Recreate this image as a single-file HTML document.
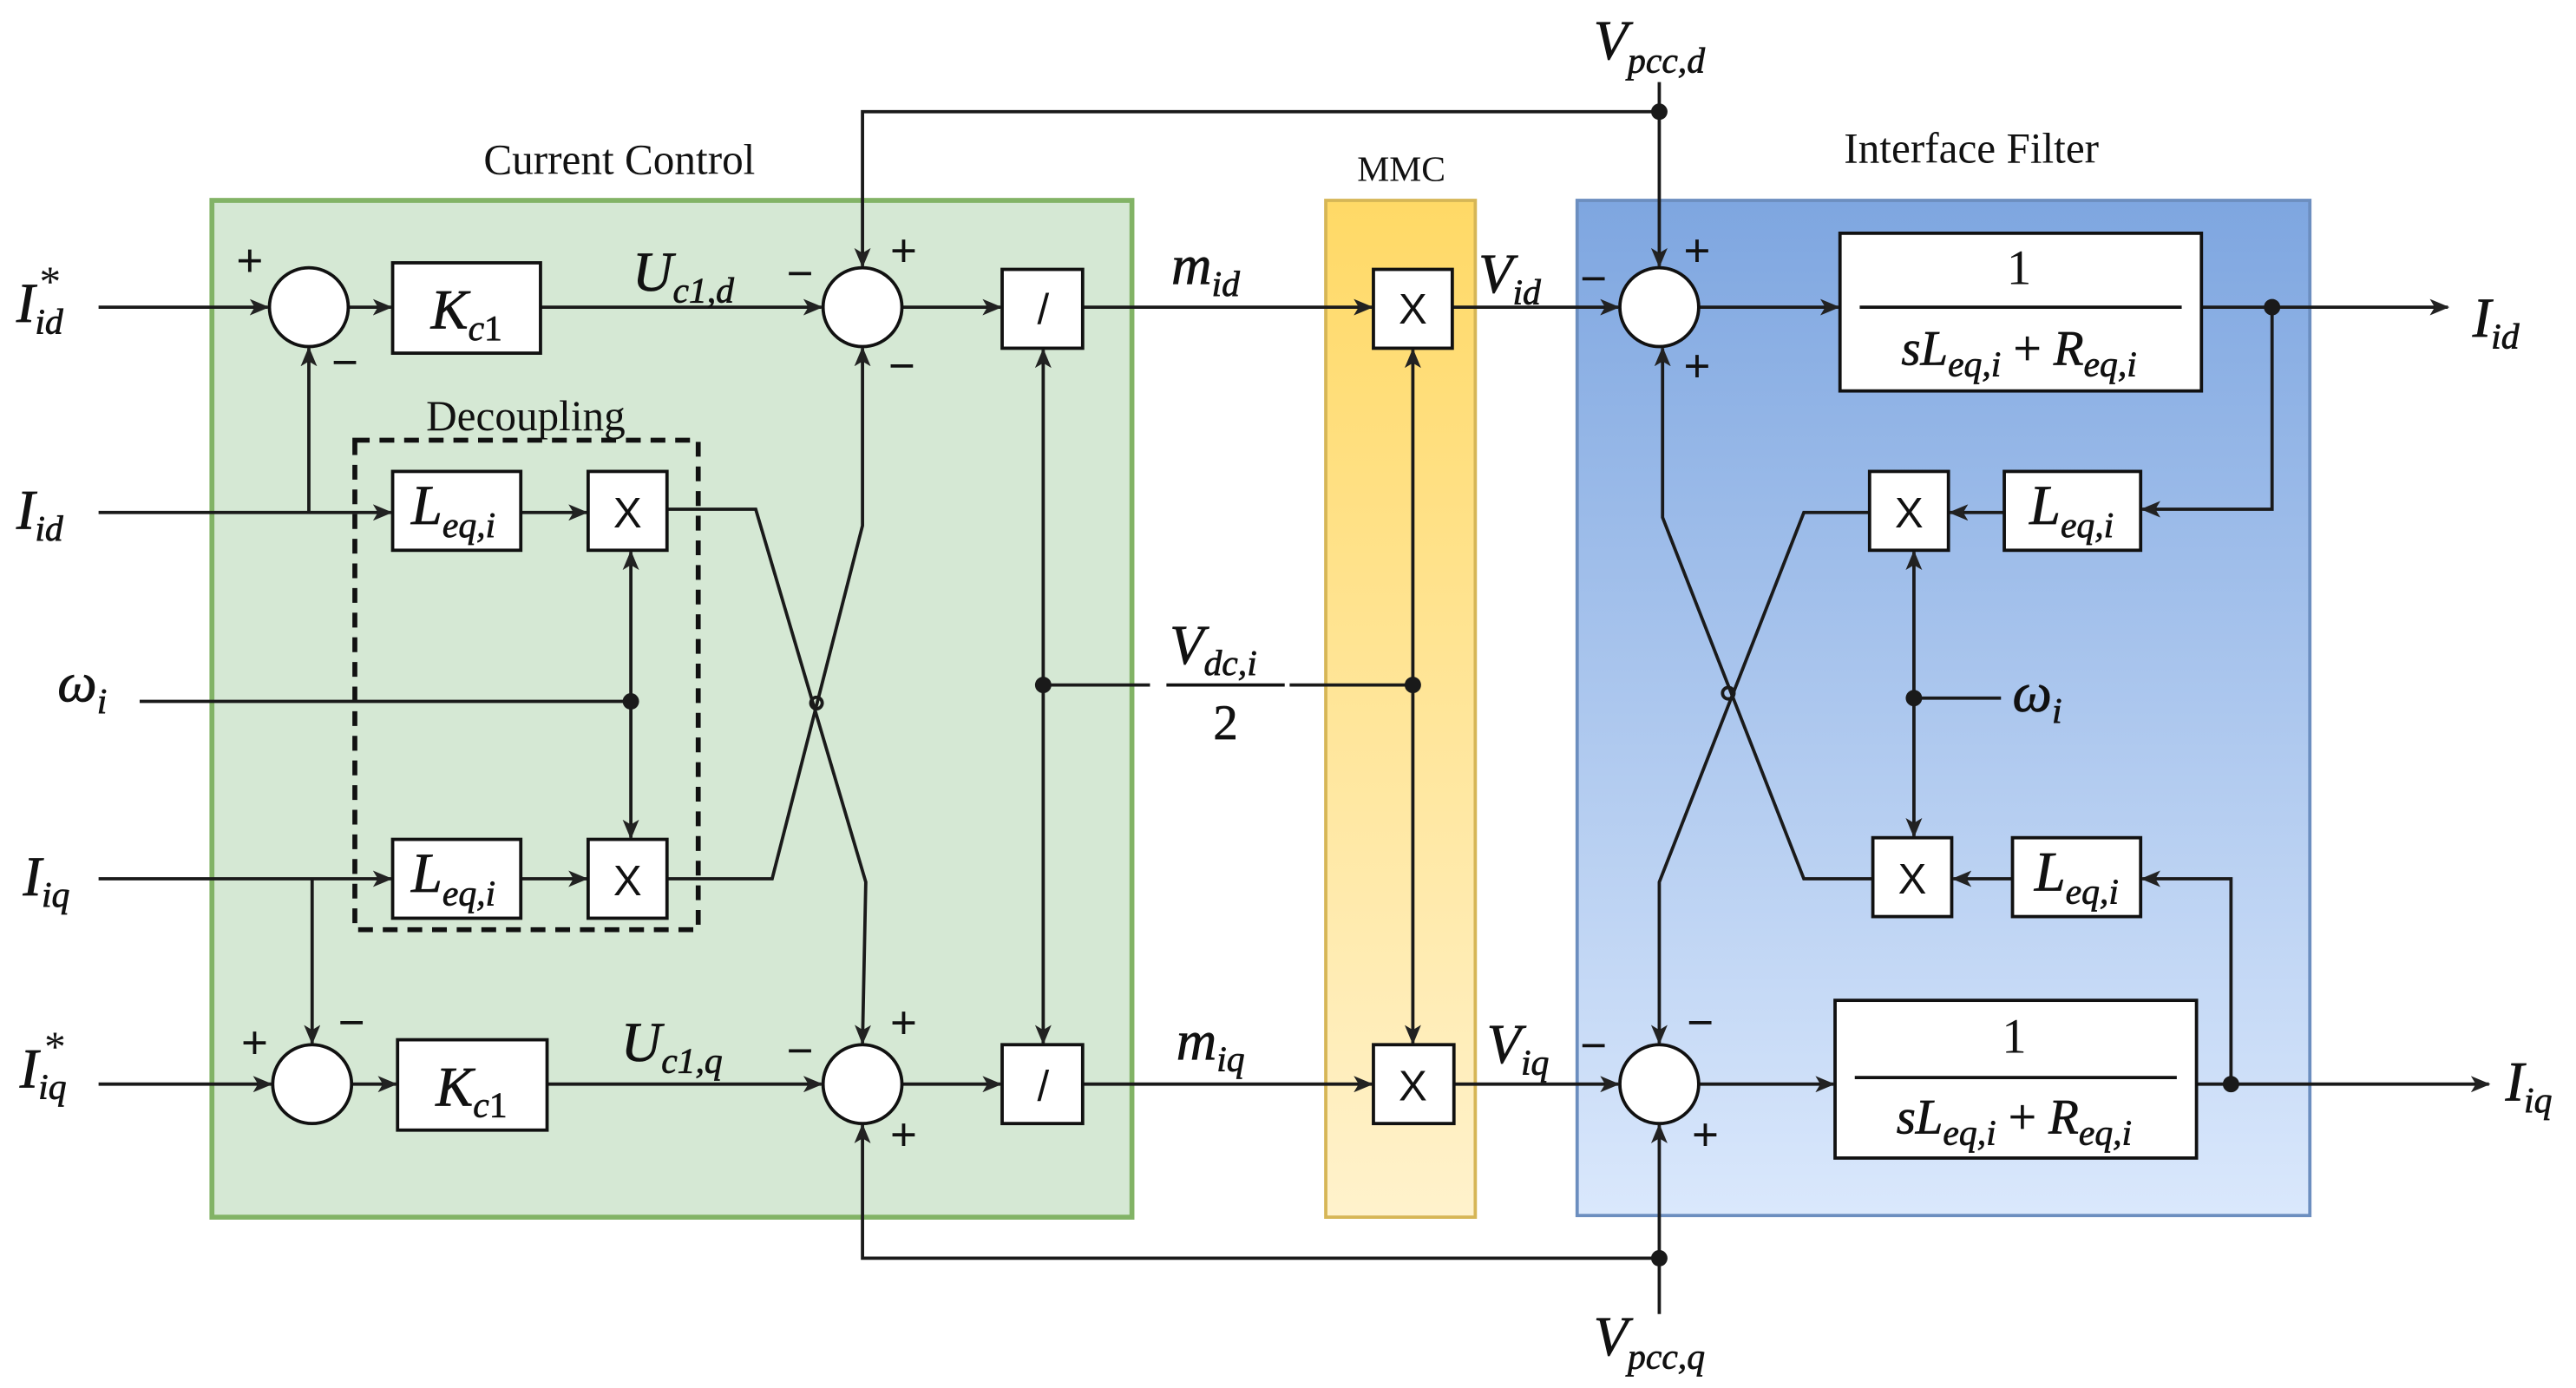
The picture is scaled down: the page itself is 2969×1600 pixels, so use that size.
<!DOCTYPE html>
<html><head><meta charset="utf-8"><style>
html,body{margin:0;padding:0;background:#fff}
svg{display:block}
text{font-family:"Liberation Serif",serif;fill:#111}
.m{font-style:italic;font-size:34px;stroke:#111;stroke-width:0.4}
.s{font-style:italic;font-size:22px}
.t{font-size:26px}
.sg{font-size:28px;font-family:"Liberation Sans",sans-serif}
.x{font-family:"Liberation Sans",sans-serif;font-size:26px}
</style></head><body>
<svg width="2969" height="1600" viewBox="0 0 1568 845" preserveAspectRatio="none" xmlns="http://www.w3.org/2000/svg">
<defs>
<linearGradient id="gy" x1="0" y1="0" x2="0" y2="1"><stop offset="0" stop-color="#ffd966"/><stop offset="1" stop-color="#fff2cc"/></linearGradient>
<linearGradient id="gb" x1="0" y1="0" x2="0" y2="1"><stop offset="0" stop-color="#7ea6e0"/><stop offset="1" stop-color="#dae8fc"/></linearGradient>
<marker id="a" markerWidth="12" markerHeight="10" refX="11" refY="5" orient="auto" markerUnits="userSpaceOnUse"><path d="M0,0 L12,5 L0,10 L3,5 Z" fill="#222"/></marker>
</defs>
<rect x="129" y="122" width="560" height="619" fill="#d5e8d4" stroke="#82b366" stroke-width="3"/>
<rect x="807" y="122" width="91" height="619" fill="url(#gy)" stroke="#d6b656" stroke-width="2"/>
<rect x="960" y="122" width="446" height="618" fill="url(#gb)" stroke="#6c8ebf" stroke-width="2"/>
<text x="377" y="106" text-anchor="middle" class="t">Current Control</text>
<text x="853" y="110" text-anchor="middle" style="font-size:22px">MMC</text>
<text x="1200" y="99" text-anchor="middle" class="t">Interface Filter</text>
<rect x="216" y="268" width="209" height="298" fill="none" stroke="#111" stroke-width="3" stroke-dasharray="9,6"/>
<text x="320" y="262" text-anchor="middle" class="t">Decoupling</text>

<g stroke="#1a1a1a" stroke-width="2" fill="none">
<line x1="60" y1="187" x2="163" y2="187" marker-end="url(#a)"/>
<line x1="212" y1="187" x2="238" y2="187" marker-end="url(#a)"/>
<line x1="329" y1="187" x2="500" y2="187" marker-end="url(#a)"/>
<line x1="549" y1="187" x2="609" y2="187" marker-end="url(#a)"/>
<line x1="659" y1="187" x2="835" y2="187" marker-end="url(#a)"/>
<line x1="884" y1="187" x2="985" y2="187" marker-end="url(#a)"/>
<line x1="1034" y1="187" x2="1119" y2="187" marker-end="url(#a)"/>
<line x1="1340" y1="187" x2="1490" y2="187" marker-end="url(#a)"/>
<path d="M1010,50 L1010,162" marker-end="url(#a)"/>
<path d="M1010,68 L525,68 L525,162" marker-end="url(#a)"/>
<line x1="60" y1="312" x2="238" y2="312" marker-end="url(#a)"/>
<path d="M188,312 L188,212" marker-end="url(#a)"/>
<line x1="317" y1="312" x2="357" y2="312" marker-end="url(#a)"/>
<path d="M406,310 L460,310 L527,537 L525,635" marker-end="url(#a)"/>
<line x1="60" y1="535" x2="238" y2="535" marker-end="url(#a)"/>
<path d="M190,535 L190,635" marker-end="url(#a)"/>
<line x1="317" y1="535" x2="357" y2="535" marker-end="url(#a)"/>
<path d="M406,535 L470,535 L525,320 L525,212" marker-end="url(#a)"/>
<line x1="85" y1="427" x2="384" y2="427"/>
<path d="M384,427 L384,336" marker-end="url(#a)"/>
<path d="M384,427 L384,510" marker-end="url(#a)"/>
<line x1="60" y1="660" x2="165" y2="660" marker-end="url(#a)"/>
<line x1="214" y1="660" x2="241" y2="660" marker-end="url(#a)"/>
<line x1="333" y1="660" x2="500" y2="660" marker-end="url(#a)"/>
<line x1="549" y1="660" x2="609" y2="660" marker-end="url(#a)"/>
<line x1="659" y1="660" x2="835" y2="660" marker-end="url(#a)"/>
<line x1="885" y1="660" x2="985" y2="660" marker-end="url(#a)"/>
<line x1="1034" y1="660" x2="1116" y2="660" marker-end="url(#a)"/>
<line x1="1337" y1="660" x2="1515" y2="660" marker-end="url(#a)"/>
<path d="M1010,800 L1010,685" marker-end="url(#a)"/>
<path d="M1010,766 L525,766 L525,685" marker-end="url(#a)"/>
<line x1="635" y1="417" x2="700" y2="417"/>
<line x1="785" y1="417" x2="860" y2="417"/>
<path d="M635,417 L635,213" marker-end="url(#a)"/>
<path d="M635,417 L635,635" marker-end="url(#a)"/>
<path d="M860,417 L860,213" marker-end="url(#a)"/>
<path d="M860,417 L860,635" marker-end="url(#a)"/>
<path d="M1383,187 L1383,310 L1304,310" marker-end="url(#a)"/>
<line x1="1220" y1="312" x2="1187" y2="312" marker-end="url(#a)"/>
<path d="M1138,312 L1098,312 L1010,537 L1010,635" marker-end="url(#a)"/>
<path d="M1358,660 L1358,535 L1304,535" marker-end="url(#a)"/>
<line x1="1225" y1="535" x2="1189" y2="535" marker-end="url(#a)"/>
<path d="M1140,535 L1098,535 L1012,315 L1012,212" marker-end="url(#a)"/>
<line x1="1165" y1="425" x2="1218" y2="425"/>
<path d="M1165,425 L1165,336" marker-end="url(#a)"/>
<path d="M1165,425 L1165,509" marker-end="url(#a)"/>
<circle cx="497" cy="428" r="3.5"/>
<circle cx="1052" cy="422" r="3.5"/>
</g>

<g fill="#1a1a1a">
<circle cx="1010" cy="68" r="5"/><circle cx="1383" cy="187" r="5"/>
<circle cx="1010" cy="766" r="5"/><circle cx="1358" cy="660" r="5"/>
<circle cx="635" cy="417" r="5"/><circle cx="860" cy="417" r="5"/>
<circle cx="384" cy="427" r="5"/><circle cx="1165" cy="425" r="5"/>
</g>

<g fill="#fff" stroke="#111" stroke-width="2">
<circle cx="188" cy="187" r="24"/><circle cx="525" cy="187" r="24"/><circle cx="1010" cy="187" r="24"/>
<circle cx="190" cy="660" r="24"/><circle cx="525" cy="660" r="24"/><circle cx="1010" cy="660" r="24"/>
<rect x="239" y="160" width="90" height="55"/>
<rect x="242" y="633" width="91" height="55"/>
<rect x="610" y="164" width="49" height="48"/>
<rect x="610" y="636" width="49" height="48"/>
<rect x="836" y="164" width="48" height="48"/>
<rect x="836" y="636" width="49" height="48"/>
<rect x="239" y="287" width="78" height="48"/>
<rect x="358" y="287" width="48" height="48"/>
<rect x="239" y="511" width="78" height="48"/>
<rect x="358" y="511" width="48" height="48"/>
<rect x="1220" y="287" width="83" height="48"/>
<rect x="1138" y="287" width="48" height="48"/>
<rect x="1225" y="510" width="78" height="48"/>
<rect x="1140" y="510" width="48" height="48"/>
<rect x="1120" y="142" width="220" height="96"/>
<rect x="1117" y="609" width="220" height="96"/>
</g>

<g text-anchor="middle">
<text x="382" y="321" class="x">X</text>
<text x="382" y="545" class="x">X</text>
<text x="860" y="197" class="x">X</text>
<text x="860" y="670" class="x">X</text>
<text x="1162" y="321" class="x">X</text>
<text x="1164" y="544" class="x">X</text>
<text x="635" y="197" class="x">/</text>
<text x="635" y="670" class="x">/</text>
</g>
<text x="284" y="200" text-anchor="middle" class="m">K<tspan class="s" dy="7">c</tspan><tspan style="font-style:normal;font-size:22px">1</tspan></text>
<text x="287" y="673" text-anchor="middle" class="m">K<tspan class="s" dy="7">c</tspan><tspan style="font-style:normal;font-size:22px">1</tspan></text>
<text x="276" y="319" text-anchor="middle" class="m">L<tspan class="s" dy="8">eq,i</tspan></text>
<text x="276" y="543" text-anchor="middle" class="m">L<tspan class="s" dy="8">eq,i</tspan></text>
<text x="1261" y="319" text-anchor="middle" class="m">L<tspan class="s" dy="8">eq,i</tspan></text>
<text x="1264" y="542" text-anchor="middle" class="m">L<tspan class="s" dy="8">eq,i</tspan></text>
<text x="1229" y="173" text-anchor="middle" style="font-size:30px">1</text>
<line x1="1132" y1="187" x2="1328" y2="187" stroke="#111" stroke-width="2"/>
<text x="1229" y="222" text-anchor="middle" class="m" style="font-size:30px">sL<tspan class="s" dy="7">eq,i</tspan><tspan dy="-7" style="font-style:normal"> + </tspan>R<tspan class="s" dy="7">eq,i</tspan></text>
<text x="1226" y="641" text-anchor="middle" style="font-size:30px">1</text>
<line x1="1129" y1="656" x2="1325" y2="656" stroke="#111" stroke-width="2"/>
<text x="1226" y="690" text-anchor="middle" class="m" style="font-size:30px">sL<tspan class="s" dy="7">eq,i</tspan><tspan dy="-7" style="font-style:normal"> + </tspan>R<tspan class="s" dy="7">eq,i</tspan></text>

<text x="10" y="196" class="m">I<tspan class="s" dy="7">id</tspan></text>
<text x="24" y="180" style="font-size:26px">*</text>
<text x="10" y="322" class="m">I<tspan class="s" dy="7">id</tspan></text>
<text x="35" y="427" class="m">ω<tspan class="s" dy="7">i</tspan></text>
<text x="14" y="545" class="m">I<tspan class="s" dy="7">iq</tspan></text>
<text x="12" y="662" class="m">I<tspan class="s" dy="7">iq</tspan></text>
<text x="27" y="646" style="font-size:26px">*</text>
<text x="385" y="177" class="m">U<tspan class="s" dy="7">c1,d</tspan></text>
<text x="378" y="646" class="m">U<tspan class="s" dy="7">c1,q</tspan></text>
<text x="713" y="173" class="m">m<tspan class="s" dy="7">id</tspan></text>
<text x="716" y="645" class="m">m<tspan class="s" dy="7">iq</tspan></text>
<text x="900" y="178" class="m">V<tspan class="s" dy="7">id</tspan></text>
<text x="905" y="647" class="m">V<tspan class="s" dy="7">iq</tspan></text>
<text x="970" y="36" class="m">V<tspan class="s" dy="8">pcc,d</tspan></text>
<text x="970" y="825" class="m">V<tspan class="s" dy="8">pcc,q</tspan></text>
<text x="712" y="404" class="m">V<tspan class="s" dy="7">dc,i</tspan></text>
<line x1="710" y1="417" x2="782" y2="417" stroke="#111" stroke-width="2"/>
<text x="746" y="450" text-anchor="middle" style="font-size:30px;stroke:#111;stroke-width:0.4">2</text>
<text x="1505" y="205" class="m">I<tspan class="s" dy="7">id</tspan></text>
<text x="1525" y="670" class="m">I<tspan class="s" dy="7">iq</tspan></text>
<text x="1225" y="433" class="m">ω<tspan class="s" dy="7">i</tspan></text>

<g text-anchor="middle">
<text x="152" y="168" class="sg">+</text><text x="210" y="230" class="sg">−</text>
<text x="487" y="176" class="sg">−</text><text x="550" y="162" class="sg">+</text><text x="549" y="232" class="sg">−</text>
<text x="155" y="644" class="sg">+</text><text x="214" y="632" class="sg">−</text>
<text x="487" y="649" class="sg">−</text><text x="550" y="632" class="sg">+</text><text x="550" y="700" class="sg">+</text>
<text x="970" y="179" class="sg">−</text><text x="1033" y="162" class="sg">+</text><text x="1033" y="232" class="sg">+</text>
<text x="970" y="646" class="sg">−</text><text x="1035" y="632" class="sg">−</text><text x="1038" y="700" class="sg">+</text>
</g>
</svg>
</body></html>
